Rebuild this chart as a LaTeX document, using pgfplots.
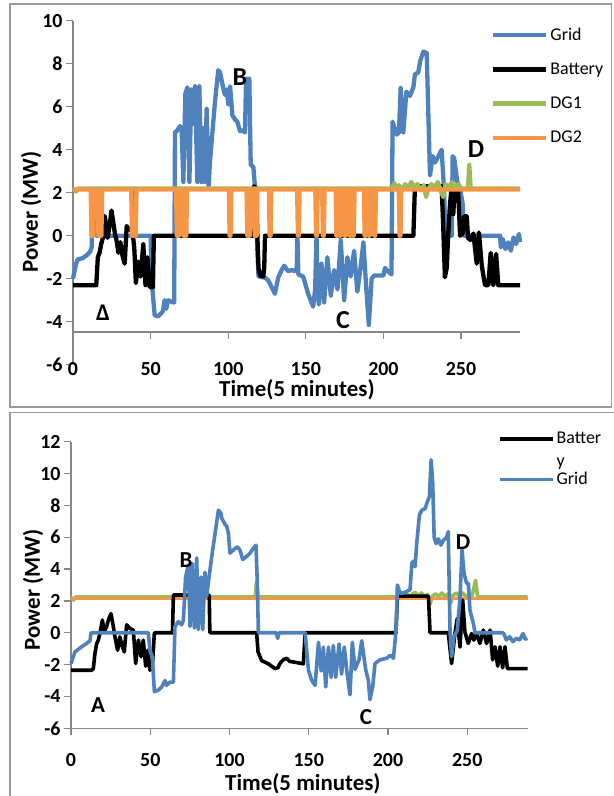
\documentclass[border=0pt]{standalone}
\usepackage{pgfplots}
\usepackage{pgfplotstable}
\pgfplotsset{compat=1.18}
\usepackage{fontspec}
\setmainfont{Carlito}
\definecolor{gblue}{HTML}{4F81BD}
\definecolor{gorange}{HTML}{F79646}
\definecolor{ggreen}{HTML}{9BBB59}
\definecolor{axgray}{HTML}{868686}
\definecolor{framegray}{HTML}{9A9A9A}

% ---------- TOP PANEL ----------
\pgfplotstableread{
t v
0 -2.0
2 -1.3
3 -1.1
6 -1.05
9 -0.9
11 -0.75
12 -0.55
12.8 2.15
14.5 2.15
15 0
38 0
38.6 2.15
39.7 2.15
40.3 0
50 0
50.5 -1.9
52.6 -3.7
54.7 -3.75
56.9 -3.6
58 -3.5
59 -3.0
60.1 -3.4
61.2 -3.0
64.4 -3.1
65.2 -3.1
65.7 4.8
67.2 4.9
68.9 5.1
70 4.9
71.1 2.5
72.4 6.6
73.7 6.9
75 2.5
76.2 6.8
77.5 5.2
78.6 6.95
80.1 2.5
81.4 6.95
82.7 2.5
84 5.0
84.8 2.5
86.1 5.9
87.4 2.3
88.3 3.5
91.5 6.25
93.6 7.7
94.7 7.6
96.4 7.0
97.9 6.55
99 6.8
100.1 6.1
101.2 6.95
102.7 5.6
104.4 5.4
105.9 5.3
107.6 4.86
109.3 4.9
110.8 4.8
111.5 7.3
113.6 7.3
114.5 3.3
116.2 3.2
117.3 2.2
118.4 0
119.5 -1.9
123.7 -1.95
125.8 -2.08
130.1 -2.7
132.2 -1.95
134.4 -1.6
136.1 -1.4
138.6 -1.65
140.8 -1.6
143 -1.65
144.2 -1.5
144.6 0
145.2 -1.8
148.3 -1.9
151.5 -2.7
154.7 -3.3
156 -2.5
156.9 0
157.6 -2.5
158.4 -3.2
160.1 -1.3
161.8 -3.1
163.9 -1.0
166.1 -2.8
168.2 -1.6
170.4 -2.5
172.5 -0.2
174.7 -3.0
176.8 -1.0
178.9 -1.9
181.1 -0.7
183.2 -2.6
185.4 -1.4
187.1 -0.3
189 -2.5
190.6 -4.15
192.4 -2.0
194 -1.85
200 -1.85
201 -1.5
203 -1.65
205.2 -1.8
205.9 5.3
208.5 4.7
210 4.8
211.1 6.87
212.8 4.8
214.8 6.7
217.1 6.5
219.3 6.9
220.3 7.5
222.5 7.6
223.6 8.1
225.7 8.56
227.9 8.5
229 5.5
230 2.8
231.7 3.7
233.2 3.4
235.4 3.7
237.5 4.0
239 2.2
240 0
244 0
244.6 3.7
245.6 3.6
247.6 2.5
249.4 2.2
251 1.5
252 0
275.2 0
275.6 -0.54
276.9 -0.15
278.6 -0.62
280.4 -0.31
282.1 -0.7
283.8 -0.08
285.5 -0.39
287.3 0.08
288 -0.3
}\topgrid

\pgfplotstableread{
t v
0 -2.3
15 -2.3
16 -1.0
17.2 -0.77
18.2 -0.38
19.3 -0.08
20.4 0.92
21.5 0.38
22.3 -0.1
23.5 0.45
24.8 1.17
26 0.6
27 0.1
28 -0.2
29.3 -0.8
30.5 -0.3
31.8 -0.9
33.3 -1.3
34.6 0.45
36 0.3
38.3 0.25
39.5 -0.6
40.5 -2.2
42 -1.2
43.5 -1.9
45.3 -0.4
46.7 -2.3
48 -1.0
49.5 -2.4
51.5 -2.4
52.1 0
116 0
116.6 2.3
118 2.2
118.8 0
119.5 -1.5
120.5 -1.85
122.6 -1.9
123.2 -1.5
123.7 0
219.3 0
220.3 2.3
237.5 2.3
238.5 0.5
239.6 -1.93
240.8 -1.5
241.7 0
242.9 1.47
244 2.3
245 1.0
246 2.3
248 2.3
249.4 0
251 0.1
252 0.9
253.7 0.9
254.5 -0.1
256 -0.2
258 0.1
260.1 -1.3
261.5 0.15
263.4 -1.4
264.5 -1.9
265.5 -2.3
267.6 -2.3
269.1 -0.8
270.8 -2.3
272.6 -0.85
274 -2.3
276.2 -2.3
288 -2.3
}\topbatt

\pgfplotstableread{
t v
0 2.2
2 2.05
3 2.2
205 2.2
207 2.45
208.5 2.2
210 2.35
212 2.1
214 2.4
216 2.2
218 2.5
220 2.25
222 2.4
224 2.1
226 2.35
227.5 1.8
229 2.2
231 2.4
233 2.2
235 2.5
237 2.1
238.5 1.8
240 2.4
242 2.2
244 2.5
246 2.2
248 2.4
250 2.2
254.5 2.2
255.3 3.3
256.2 2.2
288 2.2
}\topdgone

\pgfplotstableread{
t v
0 2.15
11.4 2.15
11.9 0
13.1 0
13.6 2.15
15.9 2.15
16.4 0
18.3 0
18.8 2.15
37.5 2.15
38.0 0
40.4 0
40.9 2.15
66.4 2.15
66.9 0
68.3 0
68.8 2.15
70.7 2.15
71.2 0
73.0 0
73.5 2.15
100.4 2.15
100.9 0
101.5 0
102.0 2.15
111.8 2.15
112.3 0
113.9 0
114.4 2.15
116.6 2.15
117.1 0
118.3 0
118.8 2.15
126.2 2.15
126.7 0
127.3 0
127.8 2.15
144.4 2.15
144.9 0
145.5 0
146.0 2.15
156.1 2.15
156.6 0
157.2 0
157.7 2.15
160.5 2.15
161.0 0
161.6 0
162.1 2.15
169.2 2.15
169.7 0
170.3 0
170.8 2.15
171.3 2.15
171.8 0
172.4 0
172.9 2.15
174.4 2.15
174.9 0
175.5 0
176.0 2.15
177.7 2.15
178.2 0
178.8 0
179.3 2.15
179.8 2.15
180.3 0
180.9 0
181.4 2.15
187.4 2.15
187.9 0
188.5 0
189.0 2.15
190.0 2.15
190.5 0
191.1 0
191.6 2.15
193.6 2.15
194.1 0
194.7 0
195.2 2.15
209.9 2.15
210.4 0
211.0 0
211.5 2.15
288 2.15
}\topdgtwo

% ---------- BOTTOM PANEL ----------
\pgfplotstableread{
t v
0 -1.93
2.5 -1.2
6.7 -0.88
9.9 -0.67
12 -0.5
12.6 0
48.8 0
49.8 -1.1
51.3 -1.5
52.6 -3.7
55.1 -3.6
57.2 -3.4
59.3 -3.0
60.3 -3.3
62.4 -3.1
64.6 -3.1
65.6 0.4
67.7 0.7
69.8 0.5
70.9 0.8
72.3 3.5
74 4.25
75.1 0.4
76.5 4.36
77.8 0.3
79.3 4.7
80.3 0.2
82 3.5
83.1 0.2
84.5 3.8
85.6 2.3
87.1 3.5
88.8 4.8
90.9 6.25
93 7.7
94.6 7.5
95.1 7.2
97.2 6.8
98.2 6.7
99.3 6.25
100.3 5.0
102.4 5.2
104.9 5.4
106.6 5.2
108.3 4.6
110.8 4.8
112.9 5.0
115 5.3
116.7 5.5
117.6 2.9
118.2 0
129.5 0
130.4 -0.35
131.3 0
147.7 0
149.8 -2.35
151.9 -3.0
154 -3.3
156.1 -0.6
157.8 -2.4
159.2 -0.9
160.7 -3.4
162.4 -0.9
164.1 -2.8
165.5 -0.8
167 -2.8
169.1 -0.7
170.7 -2.6
172.4 -0.9
173.9 -2.3
176 -3.9
177.5 -0.6
179.2 -2.3
181.7 -1.7
183.4 -0.5
185.9 -2.3
187.6 -3.0
188.6 -4.2
190.3 -3.4
191.8 -1.93
194.9 -1.7
199.2 -1.6
201.3 -1.4
203.4 -1.6
205.1 0.17
205.9 3.0
207.6 2.5
209.7 2.5
211.8 2.6
213.9 2.7
215 4.36
216 4.5
217.1 4.15
218.1 5.6
219.8 7.4
221.3 7.7
223.4 7.8
224.4 8.1
226.1 8.55
227.2 10.86
228.2 9.4
229.1 6.0
230.3 5.6
231.8 5.9
233.3 5.5
234.9 5.8
237 6.0
238 6.35
239.1 0.17
240.1 -1.5
241.6 -0.25
243.7 0.15
245.4 2.2
246.7 5.2
248 3.7
249.6 3.1
250.7 3.1
251.7 1.4
253.8 0.6
254.9 0
272.5 0
273.5 -0.15
274.6 -0.45
276.7 -0.25
278.8 -0.55
280.9 -0.35
283 -0.45
285.2 -0.05
286.5 -0.4
288 -0.35
}\botgrid

\pgfplotstableread{
t v
0 -2.35
13 -2.35
14.1 -2.25
15.1 -1.3
16.2 -0.67
17.2 -0.47
18.3 0
19.8 0.8
21 0.06
22.5 0.4
23.6 0.8
25.2 1.2
26.7 0.4
27.7 -0.25
29.4 -1.1
30.8 -0.25
32.4 -0.88
33.6 -1.2
35.1 0.5
37.2 0.27
39.3 0.17
40.8 -1.93
42.5 -0.46
44.2 -1.5
45.6 -0.46
47.1 -2.1
48.4 -1.1
49.8 -2.35
51.3 -2.1
52.6 0
64 0
64.6 2.37
87.2 2.37
87.6 0
117.1 0
118 -1.2
120.3 -1.75
124.5 -1.95
128.7 -2.25
130.5 -2.2
132 -1.9
133.9 -1.7
136 -1.6
138 -1.8
141.3 -1.85
146.6 -1.95
147.7 0
205 0
205.9 2.3
225.5 2.3
226.5 0
238 0
240.1 -1.93
242.2 -0.05
243.7 0.9
245.4 -0.9
247.1 2.05
248.5 0.05
250.6 -0.67
252.7 -0.05
254.2 -0.46
255.9 -0.05
258 -0.67
260.1 0.17
262.2 -0.67
264.4 0.17
266 -1.7
267.5 -0.88
269.2 -2.1
270.7 -0.88
272.3 -2.2
273.8 -0.88
275.3 -2.25
288 -2.25
}\botbatt

\pgfplotstableread{
t v
0 2.25
1.5 2.05
3 2.25
77 2.25
78 1.85
79 2.25
116.3 2.25
117 3.2
118 2.25
205 2.25
207 2.45
209 2.3
211 2.5
213 2.3
215 2.4
217 2.55
219 2.3
221 2.5
223 2.3
225 2.4
226.5 1.8
228 2.3
230 2.45
232 2.3
234 2.5
236 2.25
238 2.45
239.5 1.85
241 2.35
243 2.5
245 2.3
247 2.5
249 2.3
251 2.35
253 2.3
255.2 3.3
256.5 2.25
288 2.25
}\botdgone

\pgfplotstableread{
t v
0 2.15
288 2.15
}\botdgtwo

\begin{document}
\begin{tikzpicture}[x=1bp,y=1bp]
\useasboundingbox (0,0) rectangle (614,-796);
\draw[framegray,line width=1.5bp] (10,-4) rectangle (611.5,-407);
\draw[framegray,line width=1.5bp] (10,-412.5) rectangle (625,-810);

\pgfplotsset{
  every axis/.append style={
    scale only axis, clip=false,
    tick align=outside, major tick length=7bp,
    ticklabel style={font=\bfseries\fontsize{20}{20}\selectfont},
    /pgf/number format/assume math mode=true,
    label style={font=\bfseries\fontsize{23}{23}\selectfont, inner sep=1bp},
    legend style={draw=none, fill=none, font=\fontsize{18}{18}\selectfont, legend cell align=left, inner sep=0pt},
    legend image code/.code={\draw[##1] (0bp,0bp) -- (53bp,0bp);},
  },
}

% ================= TOP =================
\begin{axis}[
  at={(73bp,-364.7bp)}, anchor=south west,
  width=447bp, height=344bp,
  xmin=0, xmax=288, ymin=-6, ymax=10,
  axis x line*=bottom, axis y line*=left,
  x axis line style={draw=none},
  y axis line style={draw=axgray, line width=1.2bp},
  xtick={0,50,100,150,200,250}, ytick={-6,-4,-2,0,2,4,6,8,10},
  xtick style={draw=none},
  ytick style={draw=axgray, line width=1.2bp},
  xticklabel style={inner sep=1bp, yshift=10.5bp},
  xlabel={Time(5 minutes)}, ylabel={Power (MW)},
  xlabel style={at={(axis description cs:0.501,-0.073)}, anchor=center},
  ylabel style={at={(axis description cs:-0.094,0.444)}, anchor=center},
  legend style={at={(0.935,0.985)}, anchor=north west, row sep=17bp},
]
\draw[axgray, line width=1.2bp] (axis cs:0,-4.48) -- (axis cs:288,-4.48);
\draw[axgray, line width=1.2bp] (axis cs:0,-4.48) -- ++(0bp,-7bp);
\draw[axgray, line width=1.2bp] (axis cs:50,-4.48) -- ++(0bp,-7bp);
\draw[axgray, line width=1.2bp] (axis cs:100,-4.48) -- ++(0bp,-7bp);
\draw[axgray, line width=1.2bp] (axis cs:150,-4.48) -- ++(0bp,-7bp);
\draw[axgray, line width=1.2bp] (axis cs:200,-4.48) -- ++(0bp,-7bp);
\draw[axgray, line width=1.2bp] (axis cs:250,-4.48) -- ++(0bp,-7bp);
\addplot[gblue, line width=4.3bp, line join=round] table[x=t,y=v] {\topgrid};
\addlegendentry{Grid}
\addplot[black, line width=4.3bp, line join=round] table[x=t,y=v] {\topbatt};
\addlegendentry{Battery}
\addplot[ggreen, line width=4.3bp, line join=round] table[x=t,y=v] {\topdgone};
\addlegendentry{DG1}
\addplot[gorange, line width=4.3bp, line join=round] table[x=t,y=v] {\topdgtwo};
\addlegendentry{DG2}
\node[font=\bfseries\fontsize{26}{26}\selectfont] at (axis cs:107.6,7.4) {B};
\node[font=\bfseries\fontsize{24}{24}\selectfont] at (axis cs:19.3,-3.56) {Δ};
\node[font=\bfseries\fontsize{26}{26}\selectfont] at (axis cs:174,-3.94) {C};
\node[font=\bfseries\fontsize{26}{26}\selectfont] at (axis cs:259.7,4.03) {D};
\end{axis}

% ================= BOTTOM =================
\begin{axis}[
  at={(71bp,-728.3bp)}, anchor=south west,
  width=456.5bp, height=286.6bp,
  xmin=0, xmax=288, ymin=-6, ymax=12,
  axis x line*=bottom, axis y line*=left,
  axis line style={draw=axgray, line width=1.2bp},
  xtick={0,50,100,150,200,250}, ytick={-6,-4,-2,0,2,4,6,8,10,12},
  tick style={draw=axgray, line width=1.2bp},
  xticklabel style={inner sep=1bp, yshift=-17bp},
  xlabel={Time(5 minutes)}, ylabel={Power (MW)},
  xlabel style={at={(axis description cs:0.508,-0.193)}, anchor=center},
  ylabel style={at={(axis description cs:-0.083,0.4825)}, anchor=center},
  legend style={at={(0.935,1.04)}, anchor=north west, row sep=23bp},
]
\addplot[ggreen, line width=3.6bp, line join=round, forget plot] table[x=t,y=v] {\botdgone};
\addplot[gorange, line width=3.6bp, forget plot] table[x=t,y=v] {\botdgtwo};
\addplot[black, line width=3.6bp, line join=round] table[x=t,y=v] {\botbatt};
\addlegendentry{\rlap{\smash{\raisebox{-23bp}{y}}}Batter}
\addplot[gblue, line width=3.6bp, line join=round] table[x=t,y=v] {\botgrid};
\addlegendentry{Grid}
\node[font=\bfseries\fontsize{23}{23}\selectfont] at (axis cs:72.6,4.57) {B};
\node[font=\bfseries\fontsize{23}{23}\selectfont] at (axis cs:17,-4.55) {A};
\node[font=\bfseries\fontsize{23}{23}\selectfont] at (axis cs:186,-5.3) {C};
\node[font=\bfseries\fontsize{23}{23}\selectfont] at (axis cs:247.3,5.7) {D};
\end{axis}
\end{tikzpicture}
\end{document}
